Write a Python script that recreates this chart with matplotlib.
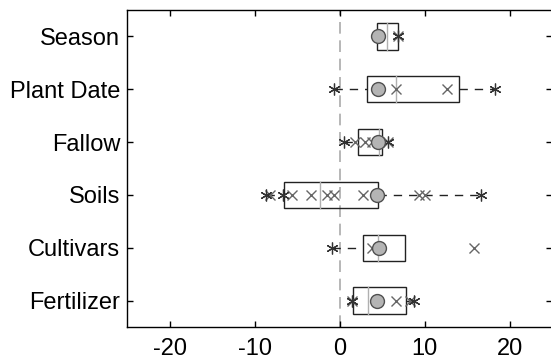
import matplotlib.pyplot as plt
from matplotlib.patches import Rectangle

# rows listed top to bottom
factors = ["Season", "Plant Date", "Fallow", "Soils", "Cultivars", "Fertilizer"]
box_lo = [4.4, 3.2, 2.2, -6.5, 2.75, 1.6]
box_med = [5.6, 6.7, 4.7, -2.3, 4.5, 3.3]
box_hi = [6.9, 14.1, 5.0, 4.5, 7.7, 7.8]
whisk_lo = [4.4, -0.7, 0.5, -8.7, -0.9, 1.5]
whisk_hi = [6.9, 18.3, 5.0, 16.7, 7.7, 8.8]
circle_val = [4.5, 4.5, 4.5, 4.4, 4.6, 4.4]
stars = [[6.9], [-0.7, 18.3], [0.5, 5.7], [-8.7, -6.6, 16.7], [-0.9], [1.5, 8.8]]
crosses = [[6.9], [6.7, 12.6], [1.8, 3.0, 3.8, 5.7],
           [-8.2, -5.6, -3.4, -1.5, -0.7, 2.8, 9.3, 10.1],
           [3.8, 15.8], [1.5, 6.6, 8.3]]
xticks = [-20, -10, 0, 10, 20]

plt.rcParams["font.family"] = ["Liberation Sans", "DejaVu Sans"]

fig = plt.figure(figsize=(5.51, 3.63), dpi=100)
ax = fig.add_axes([127 / 551, 36 / 363, 425 / 551, 317 / 363])

n = len(factors)
ypos = [n - i for i in range(n)]
h = 0.25

ax.axvline(0, color="#aaaaaa", lw=1.2, ls=(0, (7, 4)), zorder=1)

for i, y in enumerate(ypos):
    # whiskers
    if whisk_lo[i] < box_lo[i]:
        ax.plot([whisk_lo[i], box_lo[i]], [y, y], color="#222222", lw=1,
                ls=(0, (6, 5)), zorder=2)
    if whisk_hi[i] > box_hi[i]:
        ax.plot([box_hi[i], whisk_hi[i]], [y, y], color="#222222", lw=1,
                ls=(0, (6, 5)), zorder=2)
    ax.add_patch(Rectangle((box_lo[i], y - h), box_hi[i] - box_lo[i], 2 * h,
                           fill=False, ec="#222222", lw=1, zorder=3))
    ax.plot([box_med[i]] * 2, [y - h, y + h], color="#b0b0b0", lw=1, zorder=3)
    ax.plot(crosses[i], [y] * len(crosses[i]), "x", color="#666666", ms=7.5,
            mew=1, zorder=4)
    ax.plot(stars[i], [y] * len(stars[i]), ls="none", marker=(6, 2, 0),
            color="#333333", ms=8.5, mew=0.9, zorder=5)
    ax.plot([circle_val[i]], [y], "o", mfc="#b4b4b4", mec="#505050", ms=10,
            mew=1, zorder=6)

ax.set_xlim(-25, 25)
ax.set_ylim(0.5, n + 0.5)
ax.set_xticks(xticks)
ax.set_xticklabels([str(t) for t in xticks], fontsize=17)
ax.set_yticks(ypos)
ax.set_yticklabels(factors, fontsize=17)
ax.tick_params(direction="in", length=4, top=True, right=True, width=1)
ax.tick_params(axis="x", pad=8)
ax.tick_params(axis="y", pad=5)
for s in ax.spines.values():
    s.set_linewidth(1)

fig.savefig("out.png", dpi=100)
